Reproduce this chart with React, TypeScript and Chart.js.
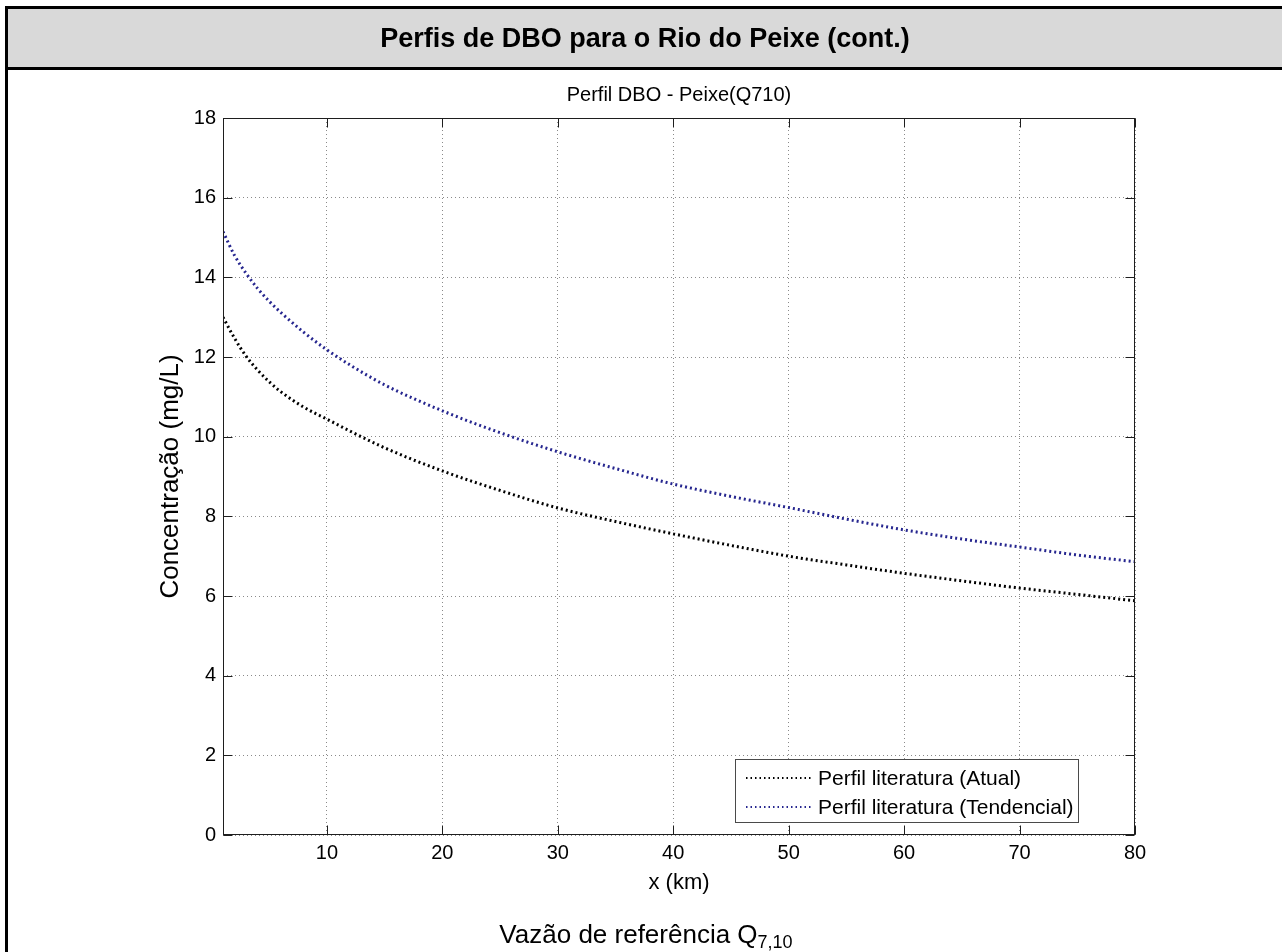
import React, { useEffect, useRef } from "react";
import { Chart, registerables } from "chart.js";

Chart.register(...registerables);

const FONT = '"Liberation Sans", Arial, Helvetica, sans-serif';

const HEADER_TITLE = "Perfis de DBO para o Rio do Peixe (cont.)";
const CHART_TITLE = "Perfil DBO - Peixe(Q710)";
const X_LABEL = "x (km)";
const Y_LABEL = "Concentração (mg/L)";
const CAPTION_MAIN = "Vazão de referência Q";
const CAPTION_SUB = "7,10";

const X_TICKS = [10, 20, 30, 40, 50, 60, 70, 80];
const Y_TICKS = [0, 2, 4, 6, 8, 10, 12, 14, 16, 18];

const X_VALUES = [1, 2, 3, 4, 5, 6, 8, 10, 12, 15, 20, 25, 30, 35, 40, 45, 50, 55, 60, 65, 70, 75, 80];
const ATUAL = [13.0, 12.47, 12.02, 11.67, 11.38, 11.13, 10.74, 10.44, 10.14, 9.72, 9.14, 8.65, 8.21, 7.87, 7.56, 7.27, 7.0, 6.78, 6.57, 6.38, 6.2, 6.04, 5.88];
const TENDENCIAL = [15.15, 14.55, 14.1, 13.72, 13.4, 13.12, 12.62, 12.18, 11.8, 11.3, 10.65, 10.1, 9.62, 9.2, 8.81, 8.5, 8.22, 7.93, 7.66, 7.43, 7.23, 7.03, 6.86];

const SERIES_LABELS = ["Perfil literatura (Atual)", "Perfil literatura (Tendencial)"];
const SERIES_COLORS = ["#000000", "#26268f"];

const plotFrame = {
  id: "plotFrame",
  afterDatasetsDraw(chart: any) {
    const { ctx, chartArea: a, scales } = chart;
    ctx.save();
    ctx.setLineDash([]);
    ctx.strokeStyle = "#1e1e1e";
    ctx.lineWidth = 1;
    const L = Math.round(a.left) + 0.5;
    const R = Math.round(a.right) - 0.5;
    const T = Math.round(a.top) + 0.5;
    const B = Math.round(a.bottom) - 0.5;
    ctx.strokeRect(L, T, R - L, B - T);
    const tl = 9;
    ctx.beginPath();
    X_TICKS.forEach((v) => {
      const x = Math.round(scales.x.getPixelForValue(v)) + 0.5;
      ctx.moveTo(x, B);
      ctx.lineTo(x, B - tl);
      ctx.moveTo(x, T);
      ctx.lineTo(x, T + tl);
    });
    Y_TICKS.forEach((v) => {
      const y = Math.round(scales.y.getPixelForValue(v)) + 0.5;
      ctx.moveTo(L, y);
      ctx.lineTo(L + tl, y);
      ctx.moveTo(R, y);
      ctx.lineTo(R - tl, y);
    });
    ctx.stroke();
    ctx.restore();
  },
  afterDraw(chart: any) {
    const { ctx, chartArea: a } = chart;
    ctx.save();
    ctx.font = `21px ${FONT}`;
    const items = chart.data.datasets.map((ds: any) => ({
      label: ds.label,
      color: ds.borderColor,
    }));
    const textW = Math.max(...items.map((i: any) => ctx.measureText(i.label).width));
    const boxW = Math.round(83 + textW + 4);
    const boxH = 63;
    const right = Math.round(a.right - 57);
    const bottom = Math.round(a.bottom - 13);
    const left = right - boxW;
    const top = bottom - boxH;
    ctx.fillStyle = "#ffffff";
    ctx.fillRect(left, top, boxW, boxH);
    ctx.strokeStyle = "#4a4a4a";
    ctx.lineWidth = 1;
    ctx.setLineDash([]);
    ctx.strokeRect(left + 0.5, top + 0.5, boxW, boxH);
    items.forEach((it: any, i: number) => {
      const y = top + 19 + i * 29;
      ctx.save();
      ctx.strokeStyle = it.color;
      ctx.lineWidth = 2;
      ctx.setLineDash([1.5, 3]);
      ctx.beginPath();
      ctx.moveTo(left + 11, y);
      ctx.lineTo(left + 76, y);
      ctx.stroke();
      ctx.restore();
      ctx.fillStyle = "#000";
      ctx.textBaseline = "middle";
      ctx.textAlign = "left";
      ctx.fillText(it.label, left + 83, y + 1);
    });
    ctx.restore();
  },
};

function DboChart() {
  const ref = useRef<HTMLCanvasElement | null>(null);
  useEffect(() => {
    if (!ref.current) return;
    const mk = (vals: number[]) => X_VALUES.map((x, i) => ({ x, y: vals[i] }));
    const chart = new Chart(ref.current, {
      type: "line",
      data: {
        datasets: [
          {
            label: SERIES_LABELS[0],
            data: mk(ATUAL),
            borderColor: SERIES_COLORS[0],
            borderWidth: 3,
            borderDash: [2, 3],
            pointRadius: 0,
            cubicInterpolationMode: "monotone",
            fill: false,
          },
          {
            label: SERIES_LABELS[1],
            data: mk(TENDENCIAL),
            borderColor: SERIES_COLORS[1],
            borderWidth: 3,
            borderDash: [2, 3],
            pointRadius: 0,
            cubicInterpolationMode: "monotone",
            fill: false,
          },
        ],
      },
      options: {
        responsive: false,
        animation: false,
        events: [],
        layout: { padding: { left: 155, top: 72, right: 147, bottom: 56 } },
        plugins: {
          legend: { display: false },
          tooltip: { enabled: false },
          title: {
            display: true,
            text: CHART_TITLE,
            fullSize: false,
            color: "#000",
            font: { family: FONT, size: 20, weight: "normal" },
            padding: { top: 11, bottom: 11 },
          },
        },
        scales: {
          x: {
            type: "linear",
            min: 1,
            max: 80,
            afterBuildTicks: (scale: any) => {
              scale.ticks = X_TICKS.map((v) => ({ value: v }));
            },
            afterFit: (scale: any) => {
              scale.height = 61;
            },
            grid: { color: "#8a8a8a", lineWidth: 1, drawTicks: false },
            border: { display: false, dash: [1, 3] },
            ticks: {
              color: "#000",
              padding: 6,
              maxRotation: 0,
              autoSkip: false,
              font: { family: FONT, size: 20 },
              callback: (v: any) => String(v),
            },
            title: {
              display: true,
              text: X_LABEL,
              color: "#000",
              font: { family: FONT, size: 22 },
              padding: { top: 0, bottom: 0 },
            },
          },
          y: {
            type: "linear",
            min: 0,
            max: 18,
            afterBuildTicks: (scale: any) => {
              scale.ticks = Y_TICKS.map((v) => ({ value: v }));
            },
            afterFit: (scale: any) => {
              scale.width = 68;
            },
            grid: { color: "#8a8a8a", lineWidth: 1, drawTicks: false },
            border: { display: false, dash: [1, 3] },
            ticks: {
              color: "#000",
              padding: 7,
              autoSkip: false,
              font: { family: FONT, size: 20 },
              callback: (v: any) => String(v),
            },
            title: {
              display: true,
              text: Y_LABEL,
              color: "#000",
              font: { family: FONT, size: 26 },
              padding: { top: 0, bottom: 0 },
            },
          },
        },
      },
      plugins: [plotFrame],
    } as any);
    return () => chart.destroy();
  }, []);
  return (
    <canvas
      ref={ref}
      width={1282}
      height={952}
      style={{ position: "absolute", left: 0, top: 0, width: 1282, height: 952, zIndex: 2 }}
    />
  );
}

export default function App() {
  return (
    <div style={{ position: "absolute", left: 0, top: 0, width: 1282, height: 952, overflow: "hidden", background: "#fff", fontFamily: FONT }}>
      <div
        style={{
          position: "absolute",
          left: 5,
          top: 6,
          width: 1300,
          height: 960,
          borderLeft: "3px solid #000",
          borderTop: "3px solid #000",
          boxSizing: "border-box",
        }}
      />
      <div
        style={{
          position: "absolute",
          left: 8,
          top: 9,
          width: 1300,
          height: 61,
          background: "#d9d9d9",
          borderBottom: "3px solid #000",
          boxSizing: "border-box",
        }}
      />
      <div
        style={{
          position: "absolute",
          left: 145,
          top: 9,
          width: 1000,
          height: 58,
          lineHeight: "58px",
          textAlign: "center",
          fontWeight: "bold",
          fontSize: 27,
          color: "#000",
          zIndex: 3,
        }}
      >
        {HEADER_TITLE}
      </div>
      <div
        style={{
          position: "absolute",
          left: 146,
          top: 919,
          width: 1000,
          lineHeight: "30px",
          textAlign: "center",
          fontSize: 26,
          color: "#000",
          zIndex: 3,
        }}
      >
        {CAPTION_MAIN}
        <sub style={{ fontSize: 18, verticalAlign: "-5px", lineHeight: 0 }}>{CAPTION_SUB}</sub>
      </div>
      <DboChart />
    </div>
  );
}
